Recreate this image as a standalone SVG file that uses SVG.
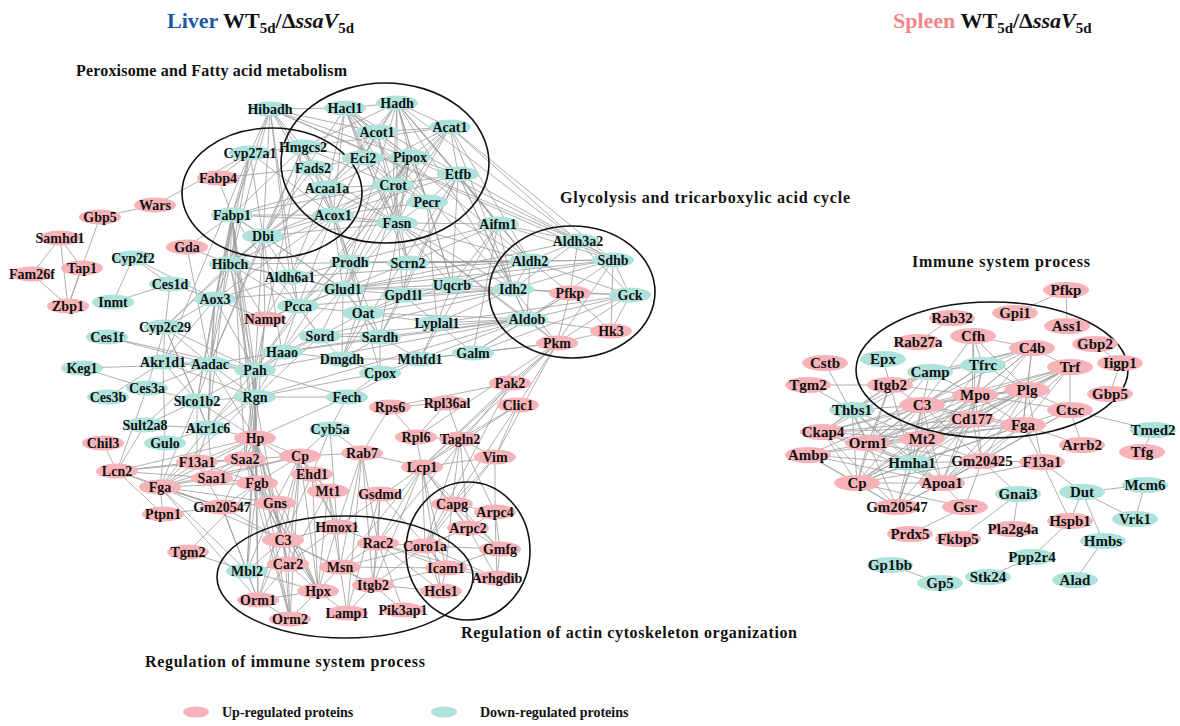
<svg xmlns="http://www.w3.org/2000/svg" width="1180" height="726" viewBox="0 0 1180 726">
<style>
.e path{stroke:#9c9c9c;stroke-width:.8;fill:none}
.u{fill:#f7b3b8}.d{fill:#aee3dc}
.L ellipse{rx:21px;ry:7.5px}
.S ellipse{rx:23px;ry:8px}
.n text{font-family:"Liberation Serif",serif;font-weight:bold;text-anchor:middle;dominant-baseline:central;fill:#111}
.L text{font-size:14px}.S text{font-size:15px}
.c{fill:none;stroke:#111;stroke-width:1.6}
.h{font-family:"Liberation Serif",serif;font-weight:bold;font-size:16px;fill:#111}
.lg{font-family:"Liberation Serif",serif;font-weight:bold;font-size:14px;fill:#111}
.ti{font-family:"Liberation Serif",serif;font-weight:bold;font-size:22px;fill:#111}
</style>
<rect width="1180" height="726" fill="#fff"/>
<text class="ti" x="167" y="28"><tspan fill="#1c5aa6">Liver</tspan> WT<tspan font-size="15" dy="5">5d</tspan><tspan dy="-5">/Δ</tspan><tspan font-style="italic">ssaV</tspan><tspan font-size="15" dy="5">5d</tspan></text>
<text class="ti" x="893" y="28"><tspan fill="#f4848a">Spleen</tspan> WT<tspan font-size="15" dy="5">5d</tspan><tspan dy="-5">/Δ</tspan><tspan font-style="italic">ssaV</tspan><tspan font-size="15" dy="5">5d</tspan></text>
<text class="h" x="76" y="76" textLength="271">Peroxisome and Fatty acid metabolism</text>
<text class="h" x="560" y="203" textLength="290">Glycolysis and tricarboxylic acid cycle</text>
<text class="h" x="912" y="267" textLength="178">Immune system process</text>
<text class="h" x="461" y="638" textLength="336">Regulation of actin cytoskeleton organization</text>
<text class="h" x="145" y="667" textLength="280">Regulation of immune system process</text>
<g class="e" id="connectors">
<path d="M232 215L218 178M232 215L263 236M232 215L333 215M232 215L327 188M232 215L303 147M232 215L250 153M232 215L270 109M232 215L230 264M232 215L215 299M232 215L255 370M232 215L255 397M232 215L255 438M232 215L245 459M232 215L257 483M232 215L208 428M232 215L197 401M232 215L210 364M232 215L393 185M232 215L397 223M232 215L343 289M232 215L320 336M232 215L187 247"/>
<path d="M345 108L270 109M345 108L397 103M345 108L377 132M345 108L333 215M345 108L393 185M345 108L410 157M345 108L363 158M345 108L397 223M345 108L327 188M345 108L427 202M345 108L458 174M345 108L530 261M345 108L513 289M345 108L408 263M345 108L263 236"/>
<path d="M397 103L450 127M397 103L377 132M397 103L363 158M397 103L410 157M397 103L393 185M397 103L458 174M397 103L327 188M397 103L303 147M397 103L397 223M397 103L530 261M397 103L452 285M397 103L513 289M397 103L498 224M397 103L427 202M397 103L350 262M397 103L578 241"/>
<path d="M270 109L250 153M270 109L303 147M270 109L313 168M270 109L263 236M270 109L230 264M270 109L333 215M270 109L290 277M270 109L458 174M270 109L613 260M270 109L578 241M270 109L298 306M270 109L377 132"/>
<path d="M377 132L363 158M377 132L410 157M377 132L327 188M377 132L333 215M377 132L393 185M377 132L397 223M377 132L450 127"/>
<path d="M450 127L458 174M450 127L410 157M450 127L393 185M450 127L327 188M450 127L303 147M450 127L397 223M450 127L613 260M450 127L530 261M450 127L513 289M450 127L343 289M450 127L298 306M450 127L578 241"/>
<path d="M303 147L313 168M303 147L327 188M303 147L333 215M303 147L250 153M303 147L393 185M303 147L263 236M303 147L255 370M303 147L210 364M303 147L363 158"/>
<path d="M363 158L327 188M363 158L393 185M363 158L333 215M363 158L427 202M363 158L397 223M363 158L313 168"/>
<path d="M410 157L393 185M410 157L427 202M410 157L397 223M410 157L333 215M410 157L578 241M410 157L380 337M410 157L342 359M410 157L350 262M410 157L255 370M410 157L282 352M410 157L343 289"/>
<path d="M458 174L393 185M458 174L427 202M458 174L333 215M458 174L342 359M458 174L380 337M458 174L530 261M458 174L513 289M458 174L527 319M458 174L498 224M458 174L452 285M458 174L403 295M458 174L613 260"/>
<path d="M313 168L333 215M313 168L327 188M313 168L397 223M313 168L263 236M313 168L218 178"/>
<path d="M327 188L333 215M327 188L393 185M327 188L263 236M327 188L397 223M327 188L230 264M327 188L290 277M327 188L350 262"/>
<path d="M393 185L427 202M393 185L333 215M393 185L397 223M393 185L263 236M393 185L408 263"/>
<path d="M427 202L397 223M427 202L333 215M427 202L530 261M427 202L437 323M427 202L452 285"/>
<path d="M333 215L397 223M333 215L263 236M333 215L230 264M333 215L298 306M333 215L343 289M333 215L290 277M333 215L363 313M333 215L215 299M333 215L350 262"/>
<path d="M397 223L498 224M397 223L263 236M397 223L403 295M397 223L408 263M397 223L452 285M397 223L513 289M397 223L527 319M397 223L557 343M397 223L343 289M397 223L530 261"/>
<path d="M250 153L218 178M250 153L263 236M250 153L230 264M250 153L215 299M250 153L163 362M250 153L155 205M250 153L333 215"/>
<path d="M263 236L230 264M263 236L290 277M263 236L343 289M263 236L265 319M263 236L210 364M263 236L165 327M263 236L255 370M263 236L282 352"/>
<path d="M498 224L452 285M498 224L513 289M498 224L530 261M498 224L613 260M498 224L578 241M498 224L420 359M498 224L473 353M498 224L408 263M498 224L350 262"/>
<path d="M578 241L530 261M578 241L613 260M578 241L513 289M578 241L630 295M578 241L570 293M578 241L343 289"/>
<path d="M530 261L613 260M530 261L513 289M530 261L630 295M530 261L527 319M530 261L570 293M530 261L343 289M530 261L290 277M530 261L452 285M530 261L350 262M530 261L363 313M530 261L230 264M530 261L408 263"/>
<path d="M613 260L513 289M613 260L630 295M613 260L557 343M613 260L527 319M613 260L452 285M613 260L408 263M613 260L611 331M613 260L343 289"/>
<path d="M513 289L570 293M513 289L527 319M513 289L630 295M513 289L452 285M513 289L343 289M513 289L403 295M513 289L298 306M513 289L363 313M513 289L320 336M513 289L437 323M513 289L557 343"/>
<path d="M570 293L630 295M570 293L557 343M570 293L527 319M570 293L611 331M570 293L473 353"/>
<path d="M630 295L557 343M630 295L527 319M630 295L611 331M630 295L473 353M630 295L437 323"/>
<path d="M527 319L557 343M527 319L611 331M527 319L473 353M527 319L437 323M527 319L420 359M527 319L320 336M527 319L380 337M527 319L255 397M527 319L255 370M527 319L363 313M527 319L282 352"/>
<path d="M557 343L611 331M557 343L473 353M557 343L422 467M557 343L510 383M557 343L518 405M557 343L495 457M557 343L460 439M557 343L416 437M557 343L420 359"/>
<path d="M510 383L422 467M510 383L378 543M510 383L425 546M510 383L390 407M518 405L460 439M518 405L495 457M518 405L452 504M518 405L422 467"/>
<path d="M350 262L343 289M350 262L363 313M350 262L298 306M350 262L380 337M350 262L408 263M350 262L290 277"/>
<path d="M343 289L363 313M343 289L403 295M343 289L298 306M343 289L290 277M343 289L320 336M343 289L380 337M343 289L342 359M343 289L452 285M343 289L230 264M343 289L282 352M343 289L265 319M343 289L215 299M343 289L408 263"/>
<path d="M363 313L320 336M363 313L380 337M363 313L298 306M363 313L403 295M363 313L342 359M363 313L380 373M363 313L437 323"/>
<path d="M298 306L290 277M298 306L230 264M298 306L265 319M298 306L320 336M298 306L282 352M298 306L255 370M290 277L230 264M290 277L265 319M290 277L215 299"/>
<path d="M320 336L282 352M320 336L342 359M320 336L255 370M320 336L255 397M320 336L380 337M380 337L342 359M380 337L420 359M380 337L282 352M380 337L380 373"/>
<path d="M282 352L255 370M282 352L342 359M282 352L255 397M282 352L210 364M282 352L208 428M403 295L452 285M403 295L437 323M403 295L380 337M403 295L408 263M437 323L473 353M437 323L420 359M437 323L452 285"/>
<path d="M420 359L473 353M420 359L342 359M420 359L380 373M420 359L347 397M380 373L347 397M380 373L342 359M380 373L255 397M347 397L330 429M347 397L255 397M347 397L255 438M347 397L255 370"/>
<path d="M215 299L230 264M215 299L210 364M215 299L165 327M215 299L163 362M215 299L197 401M215 299L170 284M215 299L255 370M215 299L208 428M215 299L265 319M215 299L133 258"/>
<path d="M230 264L265 319M230 264L210 364M230 264L255 370M230 264L165 327M230 264L187 247M230 264L255 397"/>
<path d="M165 327L210 364M165 327L163 362M165 327L197 401M165 327L147 388M165 327L208 428M165 327L255 370M165 327L170 284"/>
<path d="M210 364L163 362M210 364L255 370M210 364L197 401M210 364L255 397M210 364L208 428M210 364L82 368M210 364L107 337M210 364L147 388M210 364L145 425M210 364L187 247M210 364L255 438"/>
<path d="M163 362L255 370M163 362L197 401M163 362L165 443M163 362L108 397M163 362L255 397"/>
<path d="M255 370L255 397M255 370L197 401M255 370L208 428M255 370L255 438M255 370L245 459M255 370L257 483M255 370L107 337"/>
<path d="M255 397L197 401M255 397L208 428M255 397L255 438M255 397L245 459M255 397L257 483M255 397L160 487M255 397L247 571M255 397L275 503"/>
<path d="M197 401L208 428M197 401L145 425M197 401L147 388M197 401L160 487M197 401L255 438M197 401L197 462"/>
<path d="M208 428L145 425M208 428L165 443M208 428L255 438M208 428L160 487M208 428L197 462M208 428L212 478"/>
<path d="M255 438L245 459M255 438L197 462M255 438L212 478M255 438L257 483M255 438L300 456M255 438L160 487M255 438L283 540M255 438L318 591M255 438L258 600M255 438L290 619M255 438L247 571M255 438L275 503M255 438L222 507M255 438L312 474M255 438L288 564M255 438L117 471"/>
<path d="M245 459L212 478M245 459L197 462M245 459L257 483M245 459L160 487M245 459L300 456M245 459L318 591M245 459L290 619M245 459L283 540M245 459L117 471"/>
<path d="M197 462L212 478M197 462L257 483M197 462L160 487M197 462L222 507M197 462L117 471"/>
<path d="M257 483L212 478M257 483L160 487M257 483L222 507M257 483L275 503M257 483L283 540M257 483L247 571M257 483L300 456M257 483L258 600M257 483L318 591M257 483L290 619M257 483L188 552"/>
<path d="M300 456L312 474M300 456L283 540M300 456L318 591M300 456L258 600M300 456L290 619M300 456L212 478M300 456L328 491M300 456L362 453M300 456L337 527M300 456L288 564M300 456L330 429M300 456L275 503"/>
<path d="M275 503L283 540M275 503L222 507M275 503L247 571M275 503L318 591M275 503L288 564M275 503L160 487"/>
<path d="M222 507L247 571M222 507L163 514M222 507L258 600M222 507L283 540M222 507L160 487M222 507L117 471M188 552L247 571"/>
<path d="M330 429L312 474M330 429L337 527M330 429L362 453M390 407L416 437M390 407L447 403M390 407L362 453M447 403L416 437M447 403L460 439M416 437L422 467M416 437L460 439"/>
<path d="M460 439L422 467M460 439L495 457M460 439L452 504M460 439L468 528M460 439L495 512M460 439L425 546M495 457L452 504M495 457L422 467M495 457L495 512M495 457L425 546"/>
<path d="M422 467L378 543M422 467L425 546M422 467L446 568M422 467L441 591M422 467L452 504M422 467L468 528M422 467L373 585M422 467L340 567M422 467L337 527M422 467L500 549M422 467L362 453"/>
<path d="M362 453L378 543M362 453L340 567M362 453L347 613M362 453L337 527M362 453L373 585M312 474L328 491M312 474L337 527M312 474L283 540M312 474L318 591"/>
<path d="M328 491L337 527M328 491L318 591M328 491L340 567M328 491L288 564M380 494L378 543M380 494L373 585M380 494L446 568M380 494L347 613"/>
<path d="M452 504L468 528M452 504L495 512M452 504L425 546M452 504L500 549M452 504L446 568M495 512L468 528M495 512L500 549M495 512L497 578M468 528L425 546M468 528L500 549M468 528L497 578"/>
<path d="M425 546L378 543M425 546L446 568M425 546L441 591M425 546L497 578M425 546L373 585M425 546L340 567M425 546L500 549M500 549L497 578M500 549L446 568"/>
<path d="M446 568L373 585M446 568L441 591M446 568L497 578M446 568L340 567M446 568L378 543M337 527L283 540M337 527L340 567M337 527L318 591M337 527L378 543M337 527L288 564"/>
<path d="M283 540L288 564M283 540L340 567M283 540L318 591M283 540L247 571M283 540L258 600M283 540L290 619M283 540L373 585M378 543L340 567M378 543L373 585M378 543L441 591M378 543L403 610M378 543L497 578"/>
<path d="M288 564L258 600M288 564L290 619M288 564L318 591M288 564L247 571M340 567L373 585M340 567L347 613M340 567L318 591M373 585L441 591M373 585L403 610M373 585L347 613"/>
<path d="M318 591L258 600M318 591L290 619M318 591L247 571M318 591L347 613M258 600L290 619M258 600L247 571"/>
<path d="M117 471L160 487M117 471L212 478M117 471L103 443M117 471L147 388M117 471L163 514M117 471L145 425"/>
<path d="M160 487L212 478M160 487L222 507M160 487L283 540M160 487L247 571M160 487L163 514M160 487L300 456M160 487L258 600M160 487L165 443"/>
<path d="M155 205L100 217M100 217L68 306M60 238L82 268M60 238L32 274M60 238L68 306M32 274L68 306M82 268L68 306M133 258L113 302M113 302L170 284M133 258L170 284M82 368L147 388M265 319L255 397M265 319L255 438"/>
<path d="M1066 290L1015 313M1066 290L1067 326M952 318L918 342M1095 344L1120 363M1120 363L1110 394M825 363L868 443M808 385L890 385M808 385L852 410M883 359L890 385"/>
<path d="M973 336L1032 348M973 336L975 395M973 336L983 365M973 336L922 405M973 336L1027 390M973 336L972 419"/>
<path d="M1032 348L1070 367M1032 348L1027 390M1032 348L975 395M1032 348L983 365M1032 348L922 405M1032 348L972 419M1032 348L1023 425M1032 348L930 372M1032 348L922 439M1032 348L890 385"/>
<path d="M1070 367L1027 390M1070 367L975 395M1070 367L922 405M1070 367L972 419M1070 367L1023 425M1070 367L1070 410M1070 367L922 439M1070 367L868 443M1070 367L942 483M1070 367L912 463"/>
<path d="M983 365L975 395M983 365L1027 390M983 365L922 405M983 365L930 372M983 365L972 419M983 365L922 439M983 365L868 443"/>
<path d="M930 372L890 385M930 372L975 395M930 372L922 405M930 372L852 410M930 372L868 443M930 372L823 432"/>
<path d="M890 385L922 405M890 385L975 395M890 385L852 410M890 385L868 443M890 385L823 432M890 385L857 483M890 385L912 463"/>
<path d="M975 395L1027 390M975 395L922 405M975 395L972 419M975 395L1023 425M975 395L922 439M975 395L868 443M975 395L823 432M975 395L857 483M975 395L942 483M975 395L912 463M975 395L982 461M975 395L1070 410"/>
<path d="M1027 390L922 405M1027 390L972 419M1027 390L1023 425M1027 390L922 439M1027 390L868 443M1027 390L942 483M1027 390L1042 462M1027 390L982 461M1027 390L1070 410M1027 390L857 483"/>
<path d="M922 405L972 419M922 405L1023 425M922 405L922 439M922 405L868 443M922 405L823 432M922 405L852 410M922 405L857 483M922 405L912 463M922 405L942 483M922 405L982 461M922 405L897 507M922 405L808 455"/>
<path d="M972 419L1023 425M972 419L922 439M972 419L868 443M972 419L857 483M972 419L942 483M972 419L912 463M972 419L982 461M972 419L897 507M972 419L823 432"/>
<path d="M1023 425L922 439M1023 425L868 443M1023 425L857 483M1023 425L942 483M1023 425L982 461M1023 425L1042 462M1023 425L912 463M1023 425L823 432M1023 425L1082 445M1023 425L1070 410"/>
<path d="M1070 410L1153 430M1070 410L1082 445M1070 410L942 483M1070 410L982 461M1153 430L1142 452"/>
<path d="M852 410L868 443M852 410L857 483M852 410L823 432M852 410L922 439M852 410L942 483M852 410L912 463M823 432L868 443M823 432L922 439M823 432L857 483M823 432L942 483M823 432L912 463M823 432L897 507"/>
<path d="M868 443L922 439M868 443L857 483M868 443L942 483M868 443L912 463M868 443L897 507M868 443L808 455M868 443L982 461M922 439L857 483M922 439L942 483M922 439L912 463M922 439L982 461M922 439L897 507M922 439L808 455"/>
<path d="M808 455L857 483M808 455L942 483M808 455L912 463M808 455L897 507M912 463L857 483M912 463L942 483M912 463L897 507M912 463L982 461"/>
<path d="M982 461L942 483M982 461L1018 494M982 461L965 507M982 461L857 483M982 461L897 507M1042 462L1082 492M1042 462L1070 521M1042 462L942 483M1042 462L982 461"/>
<path d="M857 483L942 483M857 483L897 507M857 483L965 507M942 483L897 507M942 483L965 507M965 507L910 534M1018 494L958 539M1018 494L1013 529"/>
<path d="M1082 492L1145 485M1082 492L1135 519M1082 492L1070 521M1082 492L1103 541M1145 485L1135 519M1103 541L1075 580M1070 521L1032 557M1032 557L988 577M890 565L940 583"/>
</g>
<g id="groups">
<ellipse class="c" cx="385" cy="163" rx="104" ry="80"/>
<ellipse class="c" cx="272" cy="193" rx="90" ry="65"/>
<ellipse class="c" cx="572" cy="292" rx="83" ry="66"/>
<ellipse class="c" cx="345" cy="577" rx="128" ry="61"/>
<ellipse class="c" cx="468" cy="551" rx="62" ry="69"/>
<ellipse class="c" cx="992" cy="370" rx="136" ry="68"/>
</g>
<g class="n L">
<g id="L-Hibadh"><ellipse class="d" cx="270" cy="109"/><text x="270" y="109">Hibadh</text></g>
<g id="L-Hacl1"><ellipse class="d" cx="345" cy="108"/><text x="345" y="108">Hacl1</text></g>
<g id="L-Hadh"><ellipse class="d" cx="397" cy="103"/><text x="397" y="103">Hadh</text></g>
<g id="L-Acot1"><ellipse class="d" cx="377" cy="132"/><text x="377" y="132">Acot1</text></g>
<g id="L-Acat1"><ellipse class="d" cx="450" cy="127"/><text x="450" y="127">Acat1</text></g>
<g id="L-Cyp27a1"><ellipse class="d" cx="250" cy="153"/><text x="250" y="153">Cyp27a1</text></g>
<g id="L-Hmgcs2"><ellipse class="d" cx="303" cy="147"/><text x="303" y="147">Hmgcs2</text></g>
<g id="L-Eci2"><ellipse class="d" cx="363" cy="158"/><text x="363" y="158">Eci2</text></g>
<g id="L-Pipox"><ellipse class="d" cx="410" cy="157"/><text x="410" y="157">Pipox</text></g>
<g id="L-Etfb"><ellipse class="d" cx="458" cy="174"/><text x="458" y="174">Etfb</text></g>
<g id="L-Fads2"><ellipse class="d" cx="313" cy="168"/><text x="313" y="168">Fads2</text></g>
<g id="L-Fabp4"><ellipse class="u" cx="218" cy="178"/><text x="218" y="178">Fabp4</text></g>
<g id="L-Acaa1a"><ellipse class="d" cx="327" cy="188"/><text x="327" y="188">Acaa1a</text></g>
<g id="L-Crot"><ellipse class="d" cx="393" cy="185"/><text x="393" y="185">Crot</text></g>
<g id="L-Pecr"><ellipse class="d" cx="427" cy="202"/><text x="427" y="202">Pecr</text></g>
<g id="L-Fabp1"><ellipse class="d" cx="232" cy="215"/><text x="232" y="215">Fabp1</text></g>
<g id="L-Acox1"><ellipse class="d" cx="333" cy="215"/><text x="333" y="215">Acox1</text></g>
<g id="L-Fasn"><ellipse class="d" cx="397" cy="223"/><text x="397" y="223">Fasn</text></g>
<g id="L-Aifm1"><ellipse class="d" cx="498" cy="224"/><text x="498" y="224">Aifm1</text></g>
<g id="L-Dbi"><ellipse class="d" cx="263" cy="236"/><text x="263" y="236">Dbi</text></g>
<g id="L-Wars"><ellipse class="u" cx="155" cy="205"/><text x="155" y="205">Wars</text></g>
<g id="L-Gbp5"><ellipse class="u" cx="100" cy="217"/><text x="100" y="217">Gbp5</text></g>
<g id="L-Samhd1"><ellipse class="u" cx="60" cy="238"/><text x="60" y="238">Samhd1</text></g>
<g id="L-Gda"><ellipse class="u" cx="187" cy="247"/><text x="187" y="247">Gda</text></g>
<g id="L-Cyp2f2"><ellipse class="d" cx="133" cy="258"/><text x="133" y="258">Cyp2f2</text></g>
<g id="L-Tap1"><ellipse class="u" cx="82" cy="268"/><text x="82" y="268">Tap1</text></g>
<g id="L-Fam26f"><ellipse class="u" cx="32" cy="274"/><text x="32" y="274">Fam26f</text></g>
<g id="L-Hibch"><ellipse class="d" cx="230" cy="264"/><text x="230" y="264">Hibch</text></g>
<g id="L-Aldh6a1"><ellipse class="d" cx="290" cy="277"/><text x="290" y="277">Aldh6a1</text></g>
<g id="L-Ces1d"><ellipse class="d" cx="170" cy="284"/><text x="170" y="284">Ces1d</text></g>
<g id="L-Inmt"><ellipse class="d" cx="113" cy="302"/><text x="113" y="302">Inmt</text></g>
<g id="L-Aox3"><ellipse class="d" cx="215" cy="299"/><text x="215" y="299">Aox3</text></g>
<g id="L-Zbp1"><ellipse class="u" cx="68" cy="306"/><text x="68" y="306">Zbp1</text></g>
<g id="L-Pcca"><ellipse class="d" cx="298" cy="306"/><text x="298" y="306">Pcca</text></g>
<g id="L-Nampt"><ellipse class="u" cx="265" cy="319"/><text x="265" y="319">Nampt</text></g>
<g id="L-Cyp2c29"><ellipse class="d" cx="165" cy="327"/><text x="165" y="327">Cyp2c29</text></g>
<g id="L-Ces1f"><ellipse class="d" cx="107" cy="337"/><text x="107" y="337">Ces1f</text></g>
<g id="L-Haao"><ellipse class="d" cx="282" cy="352"/><text x="282" y="352">Haao</text></g>
<g id="L-Akr1d1"><ellipse class="d" cx="163" cy="362"/><text x="163" y="362">Akr1d1</text></g>
<g id="L-Aadac"><ellipse class="d" cx="210" cy="364"/><text x="210" y="364">Aadac</text></g>
<g id="L-Keg1"><ellipse class="d" cx="82" cy="368"/><text x="82" y="368">Keg1</text></g>
<g id="L-Pah"><ellipse class="d" cx="255" cy="370"/><text x="255" y="370">Pah</text></g>
<g id="L-Prodh"><ellipse class="d" cx="350" cy="262"/><text x="350" y="262">Prodh</text></g>
<g id="L-Scrn2"><ellipse class="d" cx="408" cy="263"/><text x="408" y="263">Scrn2</text></g>
<g id="L-Glud1"><ellipse class="d" cx="343" cy="289"/><text x="343" y="289">Glud1</text></g>
<g id="L-Gpd1l"><ellipse class="d" cx="403" cy="295"/><text x="403" y="295">Gpd1l</text></g>
<g id="L-Uqcrb"><ellipse class="d" cx="452" cy="285"/><text x="452" y="285">Uqcrb</text></g>
<g id="L-Oat"><ellipse class="d" cx="363" cy="313"/><text x="363" y="313">Oat</text></g>
<g id="L-Lyplal1"><ellipse class="d" cx="437" cy="323"/><text x="437" y="323">Lyplal1</text></g>
<g id="L-Sord"><ellipse class="d" cx="320" cy="336"/><text x="320" y="336">Sord</text></g>
<g id="L-Sardh"><ellipse class="d" cx="380" cy="337"/><text x="380" y="337">Sardh</text></g>
<g id="L-Dmgdh"><ellipse class="d" cx="342" cy="359"/><text x="342" y="359">Dmgdh</text></g>
<g id="L-Mthfd1"><ellipse class="d" cx="420" cy="359"/><text x="420" y="359">Mthfd1</text></g>
<g id="L-Galm"><ellipse class="d" cx="473" cy="353"/><text x="473" y="353">Galm</text></g>
<g id="L-Cpox"><ellipse class="d" cx="380" cy="373"/><text x="380" y="373">Cpox</text></g>
<g id="L-Fech"><ellipse class="d" cx="347" cy="397"/><text x="347" y="397">Fech</text></g>
<g id="L-Aldh3a2"><ellipse class="d" cx="578" cy="241"/><text x="578" y="241">Aldh3a2</text></g>
<g id="L-Aldh2"><ellipse class="d" cx="530" cy="261"/><text x="530" y="261">Aldh2</text></g>
<g id="L-Sdhb"><ellipse class="d" cx="613" cy="260"/><text x="613" y="260">Sdhb</text></g>
<g id="L-Idh2"><ellipse class="d" cx="513" cy="289"/><text x="513" y="289">Idh2</text></g>
<g id="L-Pfkp"><ellipse class="u" cx="570" cy="293"/><text x="570" y="293">Pfkp</text></g>
<g id="L-Gck"><ellipse class="d" cx="630" cy="295"/><text x="630" y="295">Gck</text></g>
<g id="L-Aldob"><ellipse class="d" cx="527" cy="319"/><text x="527" y="319">Aldob</text></g>
<g id="L-Hk3"><ellipse class="u" cx="611" cy="331"/><text x="611" y="331">Hk3</text></g>
<g id="L-Pkm"><ellipse class="u" cx="557" cy="343"/><text x="557" y="343">Pkm</text></g>
<g id="L-Pak2"><ellipse class="u" cx="510" cy="383"/><text x="510" y="383">Pak2</text></g>
<g id="L-Clic1"><ellipse class="u" cx="518" cy="405"/><text x="518" y="405">Clic1</text></g>
<g id="L-Ces3a"><ellipse class="d" cx="147" cy="388"/><text x="147" y="388">Ces3a</text></g>
<g id="L-Ces3b"><ellipse class="d" cx="108" cy="397"/><text x="108" y="397">Ces3b</text></g>
<g id="L-Slco1b2"><ellipse class="d" cx="197" cy="401"/><text x="197" y="401">Slco1b2</text></g>
<g id="L-Rgn"><ellipse class="d" cx="255" cy="397"/><text x="255" y="397">Rgn</text></g>
<g id="L-Sult2a8"><ellipse class="d" cx="145" cy="425"/><text x="145" y="425">Sult2a8</text></g>
<g id="L-Akr1c6"><ellipse class="d" cx="208" cy="428"/><text x="208" y="428">Akr1c6</text></g>
<g id="L-Hp"><ellipse class="u" cx="255" cy="438"/><text x="255" y="438">Hp</text></g>
<g id="L-Chil3"><ellipse class="u" cx="103" cy="443"/><text x="103" y="443">Chil3</text></g>
<g id="L-Gulo"><ellipse class="d" cx="165" cy="443"/><text x="165" y="443">Gulo</text></g>
<g id="L-Saa2"><ellipse class="u" cx="245" cy="459"/><text x="245" y="459">Saa2</text></g>
<g id="L-F13a1"><ellipse class="u" cx="197" cy="462"/><text x="197" y="462">F13a1</text></g>
<g id="L-Cp"><ellipse class="u" cx="300" cy="456"/><text x="300" y="456">Cp</text></g>
<g id="L-Lcn2"><ellipse class="u" cx="117" cy="471"/><text x="117" y="471">Lcn2</text></g>
<g id="L-Saa1"><ellipse class="u" cx="212" cy="478"/><text x="212" y="478">Saa1</text></g>
<g id="L-Fgb"><ellipse class="u" cx="257" cy="483"/><text x="257" y="483">Fgb</text></g>
<g id="L-Fga"><ellipse class="u" cx="160" cy="487"/><text x="160" y="487">Fga</text></g>
<g id="L-Gns"><ellipse class="u" cx="275" cy="503"/><text x="275" y="503">Gns</text></g>
<g id="L-Gm20547"><ellipse class="u" cx="222" cy="507"/><text x="222" y="507">Gm20547</text></g>
<g id="L-Ptpn1"><ellipse class="u" cx="163" cy="514"/><text x="163" y="514">Ptpn1</text></g>
<g id="L-Tgm2"><ellipse class="u" cx="188" cy="552"/><text x="188" y="552">Tgm2</text></g>
<g id="L-Rps6"><ellipse class="u" cx="390" cy="407"/><text x="390" y="407">Rps6</text></g>
<g id="L-Rpl36al"><ellipse class="u" cx="447" cy="403"/><text x="447" y="403">Rpl36al</text></g>
<g id="L-Cyb5a"><ellipse class="d" cx="330" cy="429"/><text x="330" y="429">Cyb5a</text></g>
<g id="L-Rpl6"><ellipse class="u" cx="416" cy="437"/><text x="416" y="437">Rpl6</text></g>
<g id="L-Tagln2"><ellipse class="u" cx="460" cy="439"/><text x="460" y="439">Tagln2</text></g>
<g id="L-Rab7"><ellipse class="u" cx="362" cy="453"/><text x="362" y="453">Rab7</text></g>
<g id="L-Vim"><ellipse class="u" cx="495" cy="457"/><text x="495" y="457">Vim</text></g>
<g id="L-Ehd1"><ellipse class="u" cx="312" cy="474"/><text x="312" y="474">Ehd1</text></g>
<g id="L-Lcp1"><ellipse class="u" cx="422" cy="467"/><text x="422" y="467">Lcp1</text></g>
<g id="L-Mt1"><ellipse class="u" cx="328" cy="491"/><text x="328" y="491">Mt1</text></g>
<g id="L-Gsdmd"><ellipse class="u" cx="380" cy="494"/><text x="380" y="494">Gsdmd</text></g>
<g id="L-Capg"><ellipse class="u" cx="452" cy="504"/><text x="452" y="504">Capg</text></g>
<g id="L-Arpc4"><ellipse class="u" cx="495" cy="512"/><text x="495" y="512">Arpc4</text></g>
<g id="L-Arpc2"><ellipse class="u" cx="468" cy="528"/><text x="468" y="528">Arpc2</text></g>
<g id="L-Hmox1"><ellipse class="u" cx="337" cy="527"/><text x="337" y="527">Hmox1</text></g>
<g id="L-C3"><ellipse class="u" cx="283" cy="540"/><text x="283" y="540">C3</text></g>
<g id="L-Rac2"><ellipse class="u" cx="378" cy="543"/><text x="378" y="543">Rac2</text></g>
<g id="L-Coro1a"><ellipse class="u" cx="425" cy="546"/><text x="425" y="546">Coro1a</text></g>
<g id="L-Gmfg"><ellipse class="u" cx="500" cy="549"/><text x="500" y="549">Gmfg</text></g>
<g id="L-Car2"><ellipse class="u" cx="288" cy="564"/><text x="288" y="564">Car2</text></g>
<g id="L-Mbl2"><ellipse class="d" cx="247" cy="571"/><text x="247" y="571">Mbl2</text></g>
<g id="L-Msn"><ellipse class="u" cx="340" cy="567"/><text x="340" y="567">Msn</text></g>
<g id="L-Icam1"><ellipse class="u" cx="446" cy="568"/><text x="446" y="568">Icam1</text></g>
<g id="L-Arhgdib"><ellipse class="u" cx="497" cy="578"/><text x="497" y="578">Arhgdib</text></g>
<g id="L-Itgb2"><ellipse class="u" cx="373" cy="585"/><text x="373" y="585">Itgb2</text></g>
<g id="L-Hpx"><ellipse class="u" cx="318" cy="591"/><text x="318" y="591">Hpx</text></g>
<g id="L-Hcls1"><ellipse class="u" cx="441" cy="591"/><text x="441" y="591">Hcls1</text></g>
<g id="L-Orm1"><ellipse class="u" cx="258" cy="600"/><text x="258" y="600">Orm1</text></g>
<g id="L-Pik3ap1"><ellipse class="u" cx="403" cy="610"/><text x="403" y="610">Pik3ap1</text></g>
<g id="L-Lamp1"><ellipse class="u" cx="347" cy="613"/><text x="347" y="613">Lamp1</text></g>
<g id="L-Orm2"><ellipse class="u" cx="290" cy="619"/><text x="290" y="619">Orm2</text></g>
</g>
<g class="n S">
<g id="S-Pfkp"><ellipse class="u" cx="1066" cy="290"/><text x="1066" y="290">Pfkp</text></g>
<g id="S-Gpi1"><ellipse class="u" cx="1015" cy="313"/><text x="1015" y="313">Gpi1</text></g>
<g id="S-Rab32"><ellipse class="u" cx="952" cy="318"/><text x="952" y="318">Rab32</text></g>
<g id="S-Ass1"><ellipse class="u" cx="1067" cy="326"/><text x="1067" y="326">Ass1</text></g>
<g id="S-Cfh"><ellipse class="u" cx="973" cy="336"/><text x="973" y="336">Cfh</text></g>
<g id="S-Rab27a"><ellipse class="u" cx="918" cy="342"/><text x="918" y="342">Rab27a</text></g>
<g id="S-C4b"><ellipse class="u" cx="1032" cy="348"/><text x="1032" y="348">C4b</text></g>
<g id="S-Gbp2"><ellipse class="u" cx="1095" cy="344"/><text x="1095" y="344">Gbp2</text></g>
<g id="S-Cstb"><ellipse class="u" cx="825" cy="363"/><text x="825" y="363">Cstb</text></g>
<g id="S-Epx"><ellipse class="d" cx="883" cy="359"/><text x="883" y="359">Epx</text></g>
<g id="S-Tfrc"><ellipse class="d" cx="983" cy="365"/><text x="983" y="365">Tfrc</text></g>
<g id="S-Camp"><ellipse class="d" cx="930" cy="372"/><text x="930" y="372">Camp</text></g>
<g id="S-Trf"><ellipse class="u" cx="1070" cy="367"/><text x="1070" y="367">Trf</text></g>
<g id="S-Iigp1"><ellipse class="u" cx="1120" cy="363"/><text x="1120" y="363">Iigp1</text></g>
<g id="S-Tgm2"><ellipse class="u" cx="808" cy="385"/><text x="808" y="385">Tgm2</text></g>
<g id="S-Itgb2"><ellipse class="u" cx="890" cy="385"/><text x="890" y="385">Itgb2</text></g>
<g id="S-Mpo"><ellipse class="u" cx="975" cy="395"/><text x="975" y="395">Mpo</text></g>
<g id="S-Plg"><ellipse class="u" cx="1027" cy="390"/><text x="1027" y="390">Plg</text></g>
<g id="S-Gbp5"><ellipse class="u" cx="1110" cy="394"/><text x="1110" y="394">Gbp5</text></g>
<g id="S-C3"><ellipse class="u" cx="922" cy="405"/><text x="922" y="405">C3</text></g>
<g id="S-Thbs1"><ellipse class="d" cx="852" cy="410"/><text x="852" y="410">Thbs1</text></g>
<g id="S-Cd177"><ellipse class="u" cx="972" cy="419"/><text x="972" y="419">Cd177</text></g>
<g id="S-Ctsc"><ellipse class="u" cx="1070" cy="410"/><text x="1070" y="410">Ctsc</text></g>
<g id="S-Fga"><ellipse class="u" cx="1023" cy="425"/><text x="1023" y="425">Fga</text></g>
<g id="S-Tmed2"><ellipse class="d" cx="1153" cy="430"/><text x="1153" y="430">Tmed2</text></g>
<g id="S-Ckap4"><ellipse class="u" cx="823" cy="432"/><text x="823" y="432">Ckap4</text></g>
<g id="S-Orm1"><ellipse class="u" cx="868" cy="443"/><text x="868" y="443">Orm1</text></g>
<g id="S-Mt2"><ellipse class="u" cx="922" cy="439"/><text x="922" y="439">Mt2</text></g>
<g id="S-Arrb2"><ellipse class="u" cx="1082" cy="445"/><text x="1082" y="445">Arrb2</text></g>
<g id="S-Tfg"><ellipse class="u" cx="1142" cy="452"/><text x="1142" y="452">Tfg</text></g>
<g id="S-Ambp"><ellipse class="u" cx="808" cy="455"/><text x="808" y="455">Ambp</text></g>
<g id="S-Hmha1"><ellipse class="d" cx="912" cy="463"/><text x="912" y="463">Hmha1</text></g>
<g id="S-Gm20425"><ellipse class="u" cx="982" cy="461"/><text x="982" y="461">Gm20425</text></g>
<g id="S-F13a1"><ellipse class="u" cx="1042" cy="462"/><text x="1042" y="462">F13a1</text></g>
<g id="S-Cp"><ellipse class="u" cx="857" cy="483"/><text x="857" y="483">Cp</text></g>
<g id="S-Apoa1"><ellipse class="u" cx="942" cy="483"/><text x="942" y="483">Apoa1</text></g>
<g id="S-Gnai3"><ellipse class="d" cx="1018" cy="494"/><text x="1018" y="494">Gnai3</text></g>
<g id="S-Dut"><ellipse class="d" cx="1082" cy="492"/><text x="1082" y="492">Dut</text></g>
<g id="S-Mcm6"><ellipse class="d" cx="1145" cy="485"/><text x="1145" y="485">Mcm6</text></g>
<g id="S-Gm20547"><ellipse class="u" cx="897" cy="507"/><text x="897" y="507">Gm20547</text></g>
<g id="S-Gsr"><ellipse class="u" cx="965" cy="507"/><text x="965" y="507">Gsr</text></g>
<g id="S-Hspb1"><ellipse class="u" cx="1070" cy="521"/><text x="1070" y="521">Hspb1</text></g>
<g id="S-Vrk1"><ellipse class="d" cx="1135" cy="519"/><text x="1135" y="519">Vrk1</text></g>
<g id="S-Prdx5"><ellipse class="u" cx="910" cy="534"/><text x="910" y="534">Prdx5</text></g>
<g id="S-Pla2g4a"><ellipse class="u" cx="1013" cy="529"/><text x="1013" y="529">Pla2g4a</text></g>
<g id="S-Fkbp5"><ellipse class="u" cx="958" cy="539"/><text x="958" y="539">Fkbp5</text></g>
<g id="S-Hmbs"><ellipse class="d" cx="1103" cy="541"/><text x="1103" y="541">Hmbs</text></g>
<g id="S-Ppp2r4"><ellipse class="d" cx="1032" cy="557"/><text x="1032" y="557">Ppp2r4</text></g>
<g id="S-Gp1bb"><ellipse class="d" cx="890" cy="565"/><text x="890" y="565">Gp1bb</text></g>
<g id="S-Stk24"><ellipse class="d" cx="988" cy="577"/><text x="988" y="577">Stk24</text></g>
<g id="S-Gp5"><ellipse class="d" cx="940" cy="583"/><text x="940" y="583">Gp5</text></g>
<g id="S-Alad"><ellipse class="d" cx="1075" cy="580"/><text x="1075" y="580">Alad</text></g>
</g>
<g id="legend">
<ellipse class="u" cx="196" cy="712" rx="13" ry="5.5"/>
<text class="lg" x="222" y="717">Up-regulated proteins</text>
<ellipse class="d" cx="444" cy="712" rx="13" ry="5.5"/>
<text class="lg" x="480" y="717">Down-regulated proteins</text>
</g>
</svg>
